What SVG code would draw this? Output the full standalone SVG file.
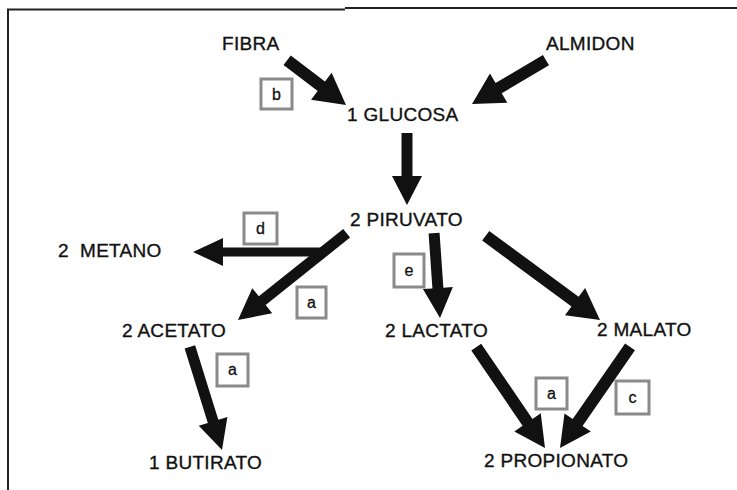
<svg xmlns="http://www.w3.org/2000/svg" width="737" height="490" viewBox="0 0 737 490">
<style>
.lbl{font-family:"Liberation Sans",Arial,sans-serif;font-size:19px;letter-spacing:0.3px;fill:#111;stroke:#111;stroke-width:0.35;white-space:pre}
.box rect{fill:#fff;stroke:#8a8a8a;stroke-width:3}
.box text{font-family:"Liberation Sans",Arial,sans-serif;font-size:16px;fill:#111;stroke:#111;stroke-width:0.3;text-anchor:middle}
.arr{fill:#111}
.frame{stroke:#222;stroke-width:2;fill:none}
</style>
<rect width="737" height="490" fill="#fff"/>
<g id="frame">
<path class="frame" d="M8,490 V9.5 H345"/>
<path class="frame" d="M345,8 H737"/>
</g>
<g id="connectors">
<path class="arr" transform="translate(346,105) rotate(37.3)" d="M0,0 L-31,-17 L-31,-6 L-74,-6 L-74,6 L-31,6 L-31,17 Z"/>
<path class="arr" transform="translate(472,104) rotate(149.3)" d="M0,0 L-31,-17 L-31,-6 L-86,-6 L-86,6 L-31,6 L-31,17 Z"/>
<path class="arr" transform="translate(407,205) rotate(90)" d="M0,0 L-29,-15 L-29,-5.5 L-72,-5.5 L-72,5.5 L-29,5.5 L-29,15 Z"/>
<path class="arr" transform="translate(193,252) rotate(180)" d="M0,0 L-30,-14 L-30,-4.5 L-130,-4.5 L-130,4.5 L-30,4.5 L-30,14 Z"/>
<path class="arr" transform="translate(238,320) rotate(141.4)" d="M0,0 L-31,-16 L-31,-5.5 L-139,-5.5 L-139,5.5 L-31,5.5 L-31,16 Z"/>
<path class="arr" transform="translate(440,318) rotate(86)" d="M0,0 L-30,-15 L-30,-5.5 L-85,-5.5 L-85,5.5 L-30,5.5 L-30,15 Z"/>
<path class="arr" transform="translate(600,320) rotate(36.4)" d="M0,0 L-31,-17 L-31,-6 L-142,-6 L-142,6 L-31,6 L-31,17 Z"/>
<path class="arr" transform="translate(222,450) rotate(72.7)" d="M0,0 L-30,-15 L-30,-5.5 L-108,-5.5 L-108,5.5 L-30,5.5 L-30,15 Z"/>
<path class="arr" transform="translate(545,448) rotate(55.7)" d="M0,0 L-31,-16 L-31,-6 L-122,-6 L-122,6 L-31,6 L-31,16 Z"/>
<path class="arr" transform="translate(560,448) rotate(124.7)" d="M0,0 L-31,-16 L-31,-6 L-123,-6 L-123,6 L-31,6 L-31,16 Z"/>
</g>
<g id="fibra"><text class="lbl" x="222" y="50">FIBRA</text></g>
<g id="almidon"><text class="lbl" x="546" y="50">ALMIDON</text></g>
<g id="glucosa"><text class="lbl" x="347" y="121">1 GLUCOSA</text></g>
<g id="piruvato"><text class="lbl" x="350" y="226">2 PIRUVATO</text></g>
<g id="metano"><text class="lbl" x="58" y="257">2  METANO</text></g>
<g id="acetato"><text class="lbl" x="122" y="337">2 ACETATO</text></g>
<g id="lactato"><text class="lbl" x="385" y="337">2 LACTATO</text></g>
<g id="malato"><text class="lbl" x="597" y="336">2 MALATO</text></g>
<g id="butirato"><text class="lbl" x="149" y="469">1 BUTIRATO</text></g>
<g id="propionato"><text class="lbl" x="484" y="467">2 PROPIONATO</text></g>
<g id="box-b" class="box"><rect x="261" y="79" width="31" height="30"/><text x="276.5" y="100">b</text></g>
<g id="box-d" class="box"><rect x="244" y="213" width="33" height="31"/><text x="260.5" y="234">d</text></g>
<g id="box-a1" class="box"><rect x="297" y="287" width="29" height="31"/><text x="311.5" y="308">a</text></g>
<g id="box-e" class="box"><rect x="394" y="254" width="30" height="33"/><text x="409" y="276">e</text></g>
<g id="box-a2" class="box"><rect x="217" y="354" width="31" height="32"/><text x="232.5" y="375">a</text></g>
<g id="box-a3" class="box"><rect x="536" y="378" width="31" height="31"/><text x="551.5" y="399">a</text></g>
<g id="box-c" class="box"><rect x="616" y="381" width="33" height="33"/><text x="632.5" y="403">c</text></g>
</svg>
